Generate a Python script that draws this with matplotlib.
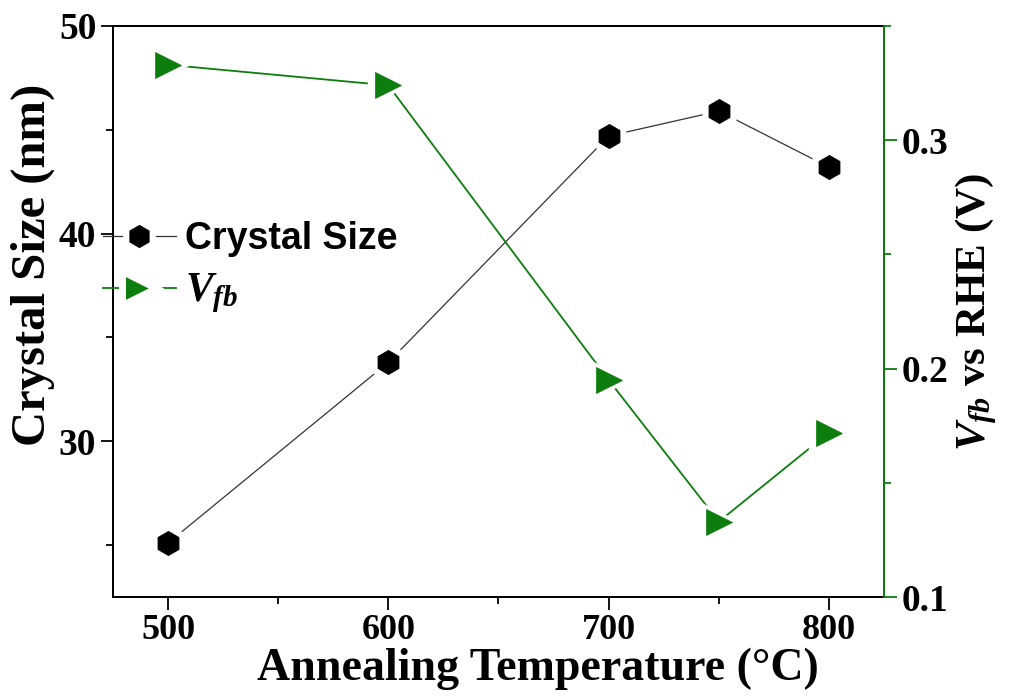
import matplotlib
matplotlib.use('Agg')
import matplotlib.pyplot as plt
from matplotlib.ticker import MultipleLocator
from matplotlib.lines import Line2D

# Annealing series
temperature = [500, 600, 700, 750, 800]
crystal_size = [25.1, 33.8, 44.7, 45.9, 43.2]
v_fb = [0.333, 0.324, 0.195, 0.133, 0.172]

green = '#0d7d0d'
grey = '#333333'

plt.rcParams['font.family'] = 'Liberation Serif'
plt.rcParams['font.weight'] = 'bold'
plt.rcParams['mathtext.fontset'] = 'custom'
plt.rcParams['mathtext.rm'] = 'Liberation Serif:bold'
plt.rcParams['mathtext.it'] = 'Liberation Serif:bold:italic'
plt.rcParams['mathtext.bf'] = 'Liberation Serif:bold'

fig = plt.figure(figsize=(10.13, 7), dpi=100)
ax = fig.add_axes([0.1115, 0.1471, 0.7612, 0.8158])
ax2 = ax.twinx()

# line with white halo markers (leaves a gap around each point), then the filled markers
ax.plot(temperature, crystal_size, '-', color=grey, lw=0.9,
        marker='h', ms=27, mfc='white', mec='white')
ax.plot(temperature, crystal_size, 'h', ms=17.5, mfc='black', mec='black', mew=0.5)
ax2.plot(temperature, v_fb, '-', color=green, lw=1.3,
         marker='>', ms=29, mfc='white', mec='white')
ax2.plot(temperature, v_fb, '>', ms=19, mfc=green, mec=green, mew=0.5)

ax.set_xlim(475, 825)
ax.set_ylim(22.5, 50)
ax2.set_ylim(0.1, 0.35)

ax.xaxis.set_major_locator(MultipleLocator(100))
ax.xaxis.set_minor_locator(MultipleLocator(50))
ax.yaxis.set_major_locator(MultipleLocator(10))
ax.yaxis.set_minor_locator(MultipleLocator(5))
ax2.yaxis.set_minor_locator(MultipleLocator(0.05))
ax2.set_yticks([0.1, 0.2, 0.3])
ax2.set_yticklabels(['0.1', '0.2', '0.3'])

for a in (ax, ax2):
    a.tick_params(which='major', direction='out', length=9, width=1.3)
    a.tick_params(which='minor', direction='out', length=5, width=1.3)
    for s in a.spines.values():
        s.set_linewidth(1.4)
ax.tick_params(axis='x', labelsize=26)
ax.tick_params(axis='y', right=False, labelsize=27, pad=3)
ax2.tick_params(axis='y', which='both', colors=green, labelcolor='black', labelsize=27)
ax2.spines['right'].set_color(green)
ax2.spines['right'].set_zorder(5)

for lab in ax.get_xticklabels() + ax.get_yticklabels() + ax2.get_yticklabels():
    lab.set_fontweight('bold')

ax.set_xlabel('Annealing Temperature (°C)', fontsize=33, fontweight='bold')
ax.xaxis.set_label_coords(0.551, -0.088)
ax.set_ylabel('Crystal Size (nm)', fontsize=35, fontweight='bold')
ax.yaxis.set_label_coords(-0.075, 0.581)
ax2.set_ylabel(r'$V_{fb}$ vs RHE (V)', fontsize=31, fontweight='bold', labelpad=4)

# legend handles: white marker edge gives the same gap around the symbol
h1 = Line2D([], [], color=grey, lw=0.9, marker='h', ms=22, mfc='black', mec='white', mew=4.5)
h2 = Line2D([], [], color=green, lw=1.3, marker='>', ms=25, mfc=green, mec='white', mew=5)
leg = ax2.legend(handles=[h1, h2], labels=['Crystal Size', r'$V_{fb}$'],
                 loc='center left', bbox_to_anchor=(-0.013, 0.576),
                 frameon=False, borderpad=0, borderaxespad=0, handlelength=1.95,
                 handletextpad=0.25, labelspacing=0.35,
                 prop={'family': 'Liberation Sans', 'weight': 'bold', 'size': 27})
leg.get_texts()[1].set_fontsize(30)

fig.savefig('out.png', dpi=100)
